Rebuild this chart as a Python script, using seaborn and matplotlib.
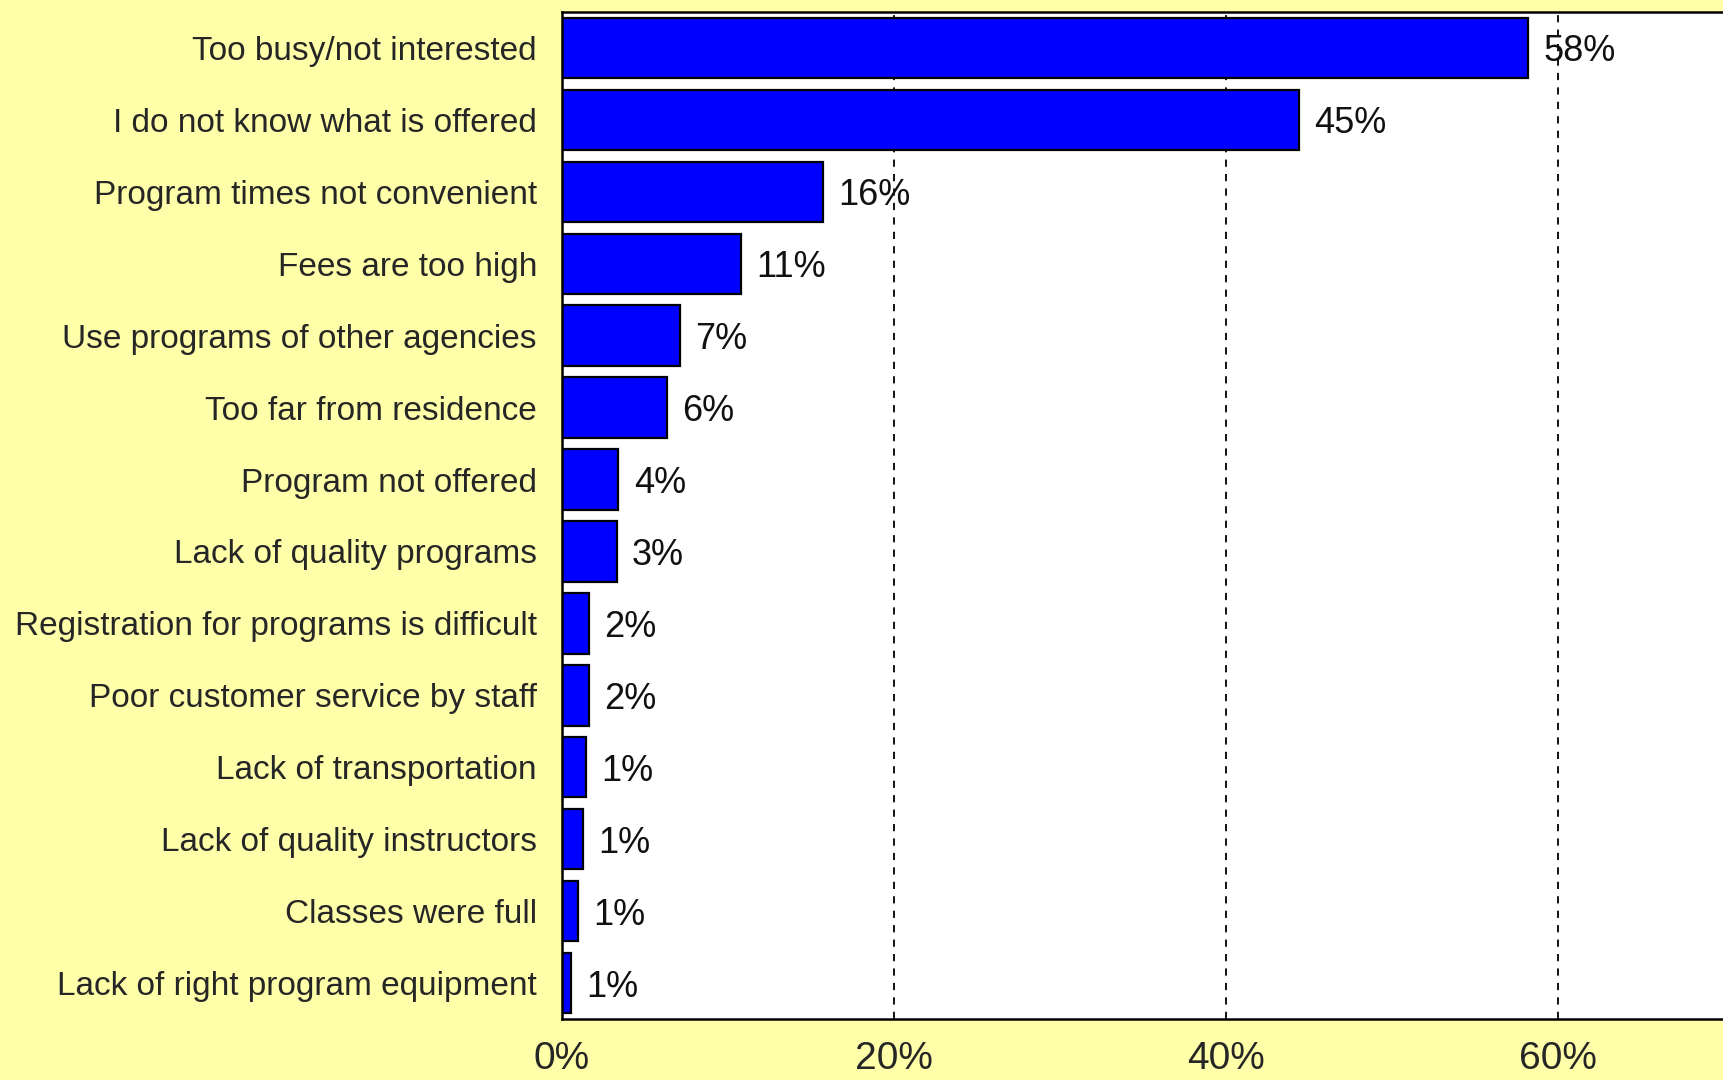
import numpy as np
import pandas as pd
import matplotlib
matplotlib.use("Agg")
import matplotlib.pyplot as plt
import seaborn as sns

# reasons for not using programs (percent of respondents)
reasons = ["Too busy/not interested", "I do not know what is offered",
           "Program times not convenient", "Fees are too high",
           "Use programs of other agencies", "Too far from residence",
           "Program not offered", "Lack of quality programs",
           "Registration for programs is difficult", "Poor customer service by staff",
           "Lack of transportation", "Lack of quality instructors",
           "Classes were full", "Lack of right program equipment"]
pct = [58.2, 44.4, 15.7, 10.8, 7.1, 6.3, 3.4, 3.3, 1.6, 1.6, 1.45, 1.25, 0.95, 0.55]
labels = ["58%", "45%", "16%", "11%", "7%", "6%", "4%", "3%", "2%", "2%", "1%", "1%", "1%", "1%"]
xticks = [0, 20, 40, 60]
xticklabels = ["0%", "20%", "40%", "60%"]

df = pd.DataFrame({"reason": reasons, "pct": pct})

sns.set_style("white")
plt.rcParams["font.family"] = ["Liberation Sans", "DejaVu Sans"]

bg = "#FFFFAA"
fig = plt.figure(figsize=(17.24, 10.8), dpi=100, facecolor=bg)
ax = fig.add_axes([562 / 1724, 1 - 1019 / 1080, 1 - 562 / 1724, (1019 - 12) / 1080])
ax.set_facecolor("white")

sns.barplot(data=df, x="pct", y="reason", orient="h", color="#0000FF",
            edgecolor="black", linewidth=1.6, width=0.84, saturation=1, ax=ax)

for i in range(len(pct)):
    ax.annotate(labels[i], (pct[i], i), xytext=(11, 0), textcoords="offset points",
                va="center_baseline", ha="left", fontsize=26, color="#111111")

ax.set_xlim(0, 70)
ax.set_ylim(13.5, -0.5)
ax.set_xticks(xticks)
ax.set_xticklabels(xticklabels, fontsize=28)
ax.tick_params(axis="x", length=0, pad=16)
ax.tick_params(axis="y", length=0, pad=18, labelsize=24)
for x in xticks[1:]:
    ax.axvline(x, color="black", linestyle=(0, (4, 4)), linewidth=1.3, zorder=0)
ax.set_xlabel("")
ax.set_ylabel("")
for s in ["left", "bottom", "top"]:
    ax.spines[s].set_visible(True)
    ax.spines[s].set_color("black")
    ax.spines[s].set_linewidth(1.8)
ax.spines["right"].set_visible(False)

fig.savefig("out.png", dpi=100, facecolor=bg)
